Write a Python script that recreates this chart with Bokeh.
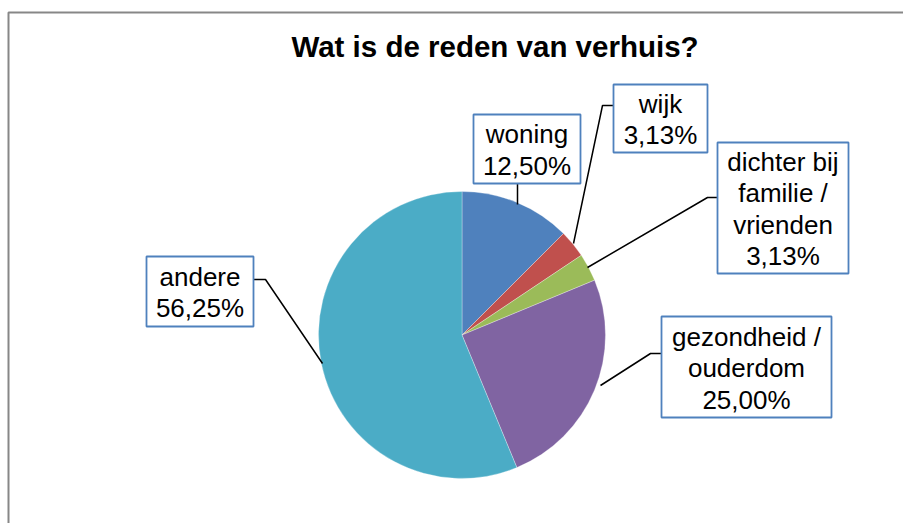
import math
from bokeh.plotting import figure
from bokeh.models import Range1d, ColumnDataSource
from bokeh.core.properties import value
from bokeh.embed import file_html
from bokeh.resources import INLINE

# ---- data ----
categories = ["woning", "wijk", "dichter bij\nfamilie /\nvrienden", "gezondheid /\nouderdom", "andere"]
percentages = [12.50, 3.13, 3.13, 25.00, 56.25]
pct_labels = ["12,50%", "3,13%", "3,13%", "25,00%", "56,25%"]
colors = ["#4F81BD", "#C0504D", "#9BBB59", "#8064A2", "#4BACC6"]
title_text = "Wat is de reden van verhuis?"

W, H = 903, 523
FONT = "Liberation Sans"

def Y(py):
    # page pixel y -> data y
    return H - py

p = figure(width=W, height=H, x_range=Range1d(0, W), y_range=Range1d(0, H),
           output_backend="svg", toolbar_location=None, min_border=0)
p.axis.visible = False
p.grid.visible = False
p.outline_line_color = None
p.background_fill_color = "white"
p.border_fill_color = "white"

# frame
p.line(x=[8, 8, 903], y=[Y(523), Y(12), Y(12)], line_color="#878787", line_width=2)

# pie
total = sum(percentages)
starts, ends = [], []
cum = 0.0
for v in percentages:
    starts.append(math.radians(90 - cum / total * 360))
    cum += v
    ends.append(math.radians(90 - cum / total * 360))
src = ColumnDataSource(dict(start=starts, end=ends, color=colors))
cx, cy, r = 461.5, Y(334.5), 143.5
p.wedge(x=cx, y=cy, radius=r, start_angle="start", end_angle="end", direction="clock",
        fill_color="color", line_color="white", line_width=0.6, line_alpha=0.5, source=src)

# leader lines (page coords)
leaders = [
    [(517, 183), (517, 204)],
    [(613, 105), (602, 105), (573, 243)],
    [(717, 197), (707, 197), (587, 267)],
    [(661, 353), (650, 353), (600, 385)],
    [(253, 279), (265, 279), (322, 363)],
]
p.multi_line(xs=[[a for a, b in L] for L in leaders], ys=[[Y(b) for a, b in L] for L in leaders],
             line_color="black", line_width=1.5)

# label boxes (left, right, top, bottom) page coords
boxes = [
    (473, 580, 114, 183),
    (613, 707, 84, 152),
    (717, 848, 142, 273),
    (661, 831, 316, 417),
    (146, 253, 256, 326),
]
p.quad(left=[b[0] for b in boxes], right=[b[1] for b in boxes],
       top=[Y(b[2]) for b in boxes], bottom=[Y(b[3]) for b in boxes],
       fill_color="white", line_color="#4F81BD", line_width=1.8)

texts = [c + "\n" + l for c, l in zip(categories, pct_labels)]
tx = [(b[0] + b[1]) / 2 for b in boxes]
ty = [Y((b[2] + b[3]) / 2 + 1) for b in boxes]
p.text(x=tx, y=ty, text=texts, text_font=value(FONT), text_font_size="26px",
       text_align="center", text_baseline="middle", text_line_height=1.05, text_color="black")

# title
p.text(x=[494.5], y=[Y(46)], text=[title_text], text_font=value(FONT), text_font_size="29.5px",
       text_font_style="bold", text_align="center", text_baseline="middle", text_color="black")

open("out.html", "w").write(file_html(p, INLINE))
